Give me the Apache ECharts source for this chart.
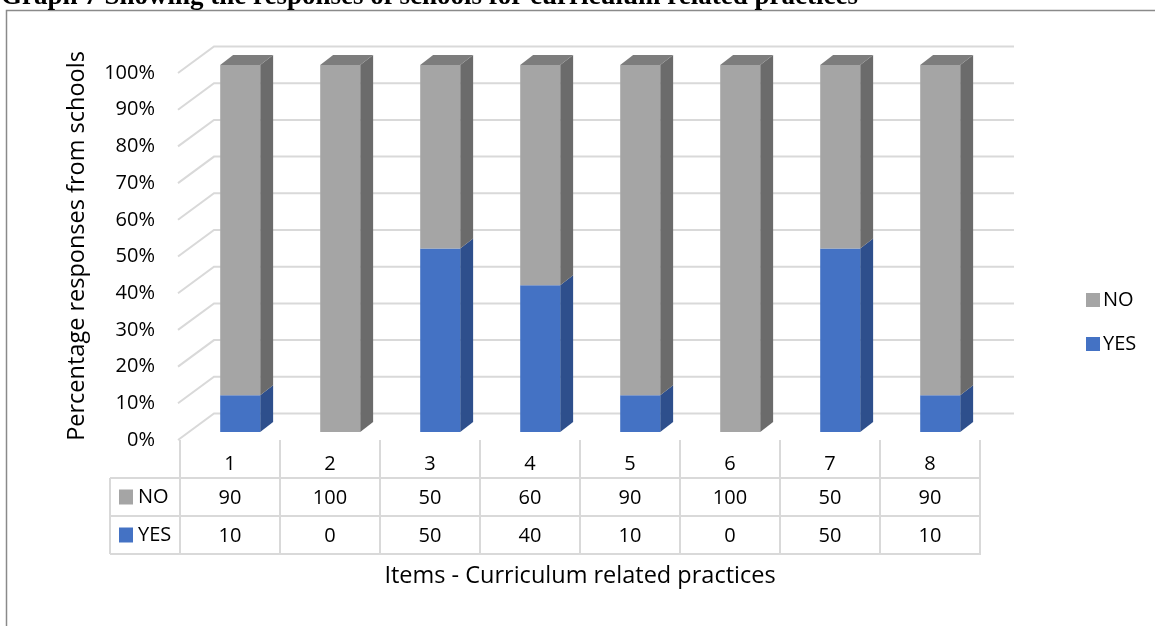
<!DOCTYPE html>
<html>
<head>
<meta charset="utf-8">
<script src="https://cdn.jsdelivr.net/npm/echarts@6/dist/echarts.min.js"></script>
<style>
  html, body { margin: 0; padding: 0; background: #fff; }
  #chart { width: 1155px; height: 626px; }
</style>
</head>
<body>
<div id="chart"></div>
<script>
// ---------- data ----------
const categories = ['1', '2', '3', '4', '5', '6', '7', '8'];
const yesValues = [10, 0, 50, 40, 10, 0, 50, 10];
const noValues  = [90, 100, 50, 60, 90, 100, 50, 90];
const yTicks = [0, 10, 20, 30, 40, 50, 60, 70, 80, 90, 100];
const seriesNames = ['NO', 'YES'];
const titleText = 'Graph 7 Showing the responses of schools for curriculum related practices';
const xTitle = 'Items - Curriculum related practices';
const yTitle = 'Percentage responses from schools';

// ---------- style ----------
const FONT = '"Open Sans", "Noto Sans", sans-serif';
const FS = 20;
const TFS = 23.5;
const DEPTH = [34, -26.5];      // 3D depth vector (front plane -> back wall)
const BAR_FRONT = 0.30;         // bar front face position along depth
const BAR_DEPTH = 0.38;         // bar depth along depth vector
const BAR_W = 0.40;             // bar width as fraction of band
const ROW_H = 38;
const GRID_COLOR = '#d9d9d9';
const colors = {
  YES: { front: '#4472C4', side: '#2E4F8C', top: '#3A62A9' },
  NO:  { front: '#A5A5A5', side: '#6B6B6B', top: '#7D7D7D' }
};

function barRenderer(c) {
  return function (params, api) {
    const i = api.value(0), base = api.value(1), top = api.value(2);
    if (top - base <= 0) return { type: 'group', children: [] };
    const pb = api.coord([i, base]);
    const pt = api.coord([i, top]);
    const bw = api.size([1, 0])[0] * BAR_W;
    const ox = DEPTH[0] * BAR_FRONT, oy = DEPTH[1] * BAR_FRONT;
    const dx = DEPTH[0] * BAR_DEPTH, dy = DEPTH[1] * BAR_DEPTH;
    const xl = pb[0] - bw / 2 + ox, xr = xl + bw;
    const yb = pb[1] + oy, yt = pt[1] + oy;
    const isTop = api.value(3) === 1;
    const children = [
      { type: 'polygon', shape: { points: [[xr, yb], [xr + dx, yb + dy], [xr + dx, yt + dy], [xr, yt]] },
        style: { fill: c.side } },
      { type: 'rect', shape: { x: xl, y: yt, width: bw, height: yb - yt }, style: { fill: c.front } }
    ];
    if (isTop) {
      children.push({ type: 'polygon',
        shape: { points: [[xl, yt], [xr, yt], [xr + dx, yt + dy], [xl + dx, yt + dy]] },
        style: { fill: c.top } });
    }
    return { type: 'group', children: children };
  };
}

const yesData = categories.map((c, i) => [i, 0, yesValues[i], noValues[i] > 0 ? 0 : 1]);
const noData = categories.map((c, i) => [i, yesValues[i], yesValues[i] + noValues[i], 1]);

const chart = echarts.init(document.getElementById('chart'), null, { renderer: 'canvas' });

const option = {
  animation: false,
  backgroundColor: '#ffffff',
  textStyle: { fontFamily: FONT },
  grid: { left: 180, right: 175, top: 73, bottom: 186, containLabel: false, outerBoundsMode: 'none' },
  legend: {
    data: seriesNames,
    orient: 'vertical',
    left: 1081, top: 285,
    itemWidth: 14, itemHeight: 14, itemGap: 24,
    itemStyle: { borderWidth: 0 },
    icon: 'rect',
    textStyle: { fontFamily: FONT, fontSize: FS, color: '#000', padding: [0, 0, 0, -2] },
    selectedMode: false
  },
  xAxis: [
    {
      type: 'category', data: categories, position: 'bottom',
      axisLine: { show: false },
      axisTick: { show: true, interval: 0, length: 114, lineStyle: { color: GRID_COLOR, width: 2 } },
      axisLabel: { interval: 0, fontSize: FS, color: '#000', margin: 14, fontFamily: FONT },
      splitLine: { show: false },
      name: xTitle, nameLocation: 'middle', nameGap: 124,
      nameTextStyle: { fontSize: TFS, color: '#000', fontFamily: FONT }
    },
    {
      type: 'category', data: categories, position: 'bottom', offset: ROW_H,
      axisLine: { show: false }, axisTick: { show: false },
      axisLabel: { interval: 0, fontSize: FS, color: '#000', margin: 10, fontFamily: FONT,
        formatter: (v, idx) => String(noValues[idx]) }
    },
    {
      type: 'category', data: categories, position: 'bottom', offset: ROW_H * 2,
      axisLine: { show: false }, axisTick: { show: false },
      axisLabel: { interval: 0, fontSize: FS, color: '#000', margin: 10, fontFamily: FONT,
        formatter: (v, idx) => String(yesValues[idx]) }
    }
  ],
  yAxis: {
    type: 'value', min: 0, max: 100, interval: 10,
    axisLine: { show: false }, axisTick: { show: false },
    splitLine: { show: false },
    axisLabel: { fontSize: FS, color: '#000', margin: 25, fontFamily: FONT, formatter: '{value}%' }
  },
  graphic: [
    { type: 'rect', silent: true, shape: { x: 6.5, y: 10.5, width: 1200, height: 700 },
      style: { fill: null, stroke: '#8a8a8a', lineWidth: 1.5 } },
    { type: 'text', silent: true, x: 1, y: -3,
      style: { text: titleText, font: 'bold 27px "Liberation Serif", "Times New Roman", serif',
        fill: '#000', verticalAlign: 'middle', align: 'left' } },
    { type: 'text', silent: true, x: 77, y: 246, rotation: Math.PI / 2,
      style: { text: yTitle, font: TFS + 'px ' + FONT, fill: '#000', align: 'center', verticalAlign: 'middle' } }
  ],
  series: [
    {
      name: 'gridlines', type: 'custom', silent: true, z: 1,
      data: yTicks.map(v => [0, v]),
      renderItem: function (params, api) {
        const cs = params.coordSys;
        const y = api.coord([0, api.value(1)])[1];
        const x0 = cs.x - 2, x1 = cs.x + cs.width;
        return { type: 'polyline',
          shape: { points: [[x0, y], [cs.x + DEPTH[0], y + DEPTH[1]], [x1 + DEPTH[0], y + DEPTH[1]]] },
          style: { stroke: GRID_COLOR, lineWidth: 2, fill: null } };
      }
    },
    {
      name: 'table', type: 'custom', silent: true, z: 1,
      data: [[0, 0]],
      renderItem: function (params, api) {
        const cs = params.coordSys;
        const gx = cs.x, gb = cs.y + cs.height, gr = cs.x + cs.width;
        const lx = gx - 70;
        const ch = [];
        for (let r = 1; r <= 3; r++) {
          ch.push({ type: 'line', shape: { x1: lx, y1: gb + ROW_H * r, x2: gr + 1, y2: gb + ROW_H * r },
            style: { stroke: GRID_COLOR, lineWidth: 2 } });
        }
        ch.push({ type: 'line', shape: { x1: lx, y1: gb + ROW_H, x2: lx, y2: gb + ROW_H * 3 },
          style: { stroke: GRID_COLOR, lineWidth: 2 } });
        seriesNames.forEach((n, k) => {
          const cy = gb + ROW_H * (k + 1) + ROW_H / 2;
          ch.push({ type: 'rect', shape: { x: lx + 9, y: cy - 7.5, width: 14, height: 15 },
            style: { fill: colors[n].front } });
          ch.push({ type: 'text', x: lx + 28, y: cy,
            style: { text: n, font: FS + 'px ' + FONT, fill: '#000', verticalAlign: 'middle', align: 'left' } });
        });
        return { type: 'group', children: ch };
      }
    },
    {
      name: 'YES', type: 'custom', z: 3,
      itemStyle: { color: colors.YES.front },
      data: yesData,
      renderItem: barRenderer(colors.YES)
    },
    {
      name: 'NO', type: 'custom', z: 4,
      itemStyle: { color: colors.NO.front },
      data: noData,
      renderItem: barRenderer(colors.NO)
    }
  ]
};
chart.setOption(option);
</script>
</body>
</html>
